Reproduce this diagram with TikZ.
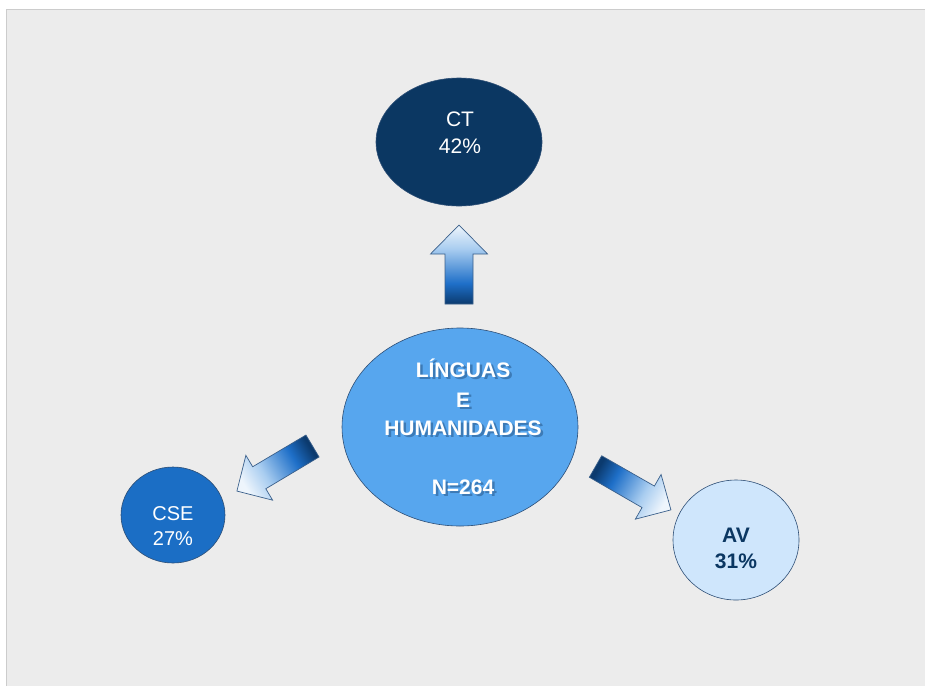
\documentclass[tikz,border=0pt]{standalone}
\usepackage{fontspec}
\setmainfont{Liberation Sans}
\usetikzlibrary{shapes.geometric}
\definecolor{panel}{HTML}{ECECEC}
\definecolor{panelline}{HTML}{CCCCCC}
\definecolor{ctc}{HTML}{0B3762}
\definecolor{cenc}{HTML}{57A6EE}
\definecolor{csec}{HTML}{1B6EC5}
\definecolor{avc}{HTML}{CFE6FC}
\definecolor{bordc}{HTML}{2D4E75}
\definecolor{arrlight}{HTML}{EEF5FC}
\definecolor{arrpale}{HTML}{A9CDF0}
\definecolor{arrmid}{HTML}{1E6FC8}
\definecolor{arrdark}{HTML}{0B3A6E}
\definecolor{arrbord}{HTML}{3A5F8A}
\definecolor{shadowc}{HTML}{0A2A50}
\pgfdeclareverticalshading{arrshade}{100bp}{color(0bp)=(arrdark); color(25bp)=(arrdark); color(38bp)=(arrmid); color(60bp)=(arrpale); color(75bp)=(arrlight); color(100bp)=(arrlight)}
% #1,#2 tail centre; #3 direction; #4 length; #5 shaft half width; #6 head half width; #7 head length; #8 shading angle
\newcommand{\blockarrow}[8]{%
  \begin{scope}[shift={(#1,#2)}, rotate=#3]
    \path[draw=arrbord, line width=0.7pt, line join=miter, shading=arrshade, shading angle=#8]
      (0,-#5) -- ({#4-#7},-#5) -- ({#4-#7},-#6) -- (#4,0) -- ({#4-#7},#6) -- ({#4-#7},#5) -- (0,#5) -- cycle;
  \end{scope}}
\begin{document}
\begin{tikzpicture}[x=1pt,y=-1pt,
  bubble/.style={ellipse, draw=bordc, line width=0.6pt, inner sep=0pt},
  lab/.style={anchor=base, inner sep=0pt, font=\fontsize{21}{21}\selectfont, text=white},
  blab/.style={lab, font=\fontsize{21}{21}\selectfont\bfseries},
  shad/.style={blab, text=shadowc, text opacity=0.35}]
\useasboundingbox (0,0) rectangle (925,686);
\fill[white] (0,0) rectangle (925,686);
\fill[panel] (6,9) rectangle (925,686);
\draw[panelline, line width=0.8pt] (6,686) -- (6,9) -- (925,9);

% arrows
\blockarrow{459}{304}{90}{79}{14}{28.5}{29}{0}
\blockarrow{312.5}{446}{210.8}{88}{12.8}{26.1}{26}{120.8}
\blockarrow{595.5}{466.5}{-29.9}{87}{12.4}{25.8}{26.2}{-119.9}

% bubbles
\node[bubble, fill=ctc, minimum width=166pt, minimum height=128pt] (ct) at (459,142) {};
\node[bubble, fill=cenc, minimum width=236pt, minimum height=198pt] (cen) at (460,427) {};
\node[bubble, fill=csec, minimum width=104pt, minimum height=96pt] (cse) at (173,515) {};
\node[bubble, fill=avc, minimum width=126pt, minimum height=120pt] (av) at (736,540) {};

% texts
\node[lab] (ct1) at (460,126) {CT};
\node[lab] (ct2) at (460,153) {42\%};

\foreach \t/\yy/\nm in {LÍNGUAS/377/l1, E/407/l2, HUMANIDADES/435/l3, N=264/494/l4}{
  \node[shad] (\nm s) at (465.5,\yy+2.5) {\t};
  \node[blab] (\nm) at (463,\yy) {\t};
}

\node[lab, font=\fontsize{20}{20}\selectfont] (cse1) at (173,520) {CSE};
\node[lab, font=\fontsize{20}{20}\selectfont] (cse2) at (173,545) {27\%};

\node[blab, text=ctc] (av1) at (736,542) {AV};
\node[blab, text=ctc] (av2) at (736,568) {31\%};
\end{tikzpicture}
\end{document}
